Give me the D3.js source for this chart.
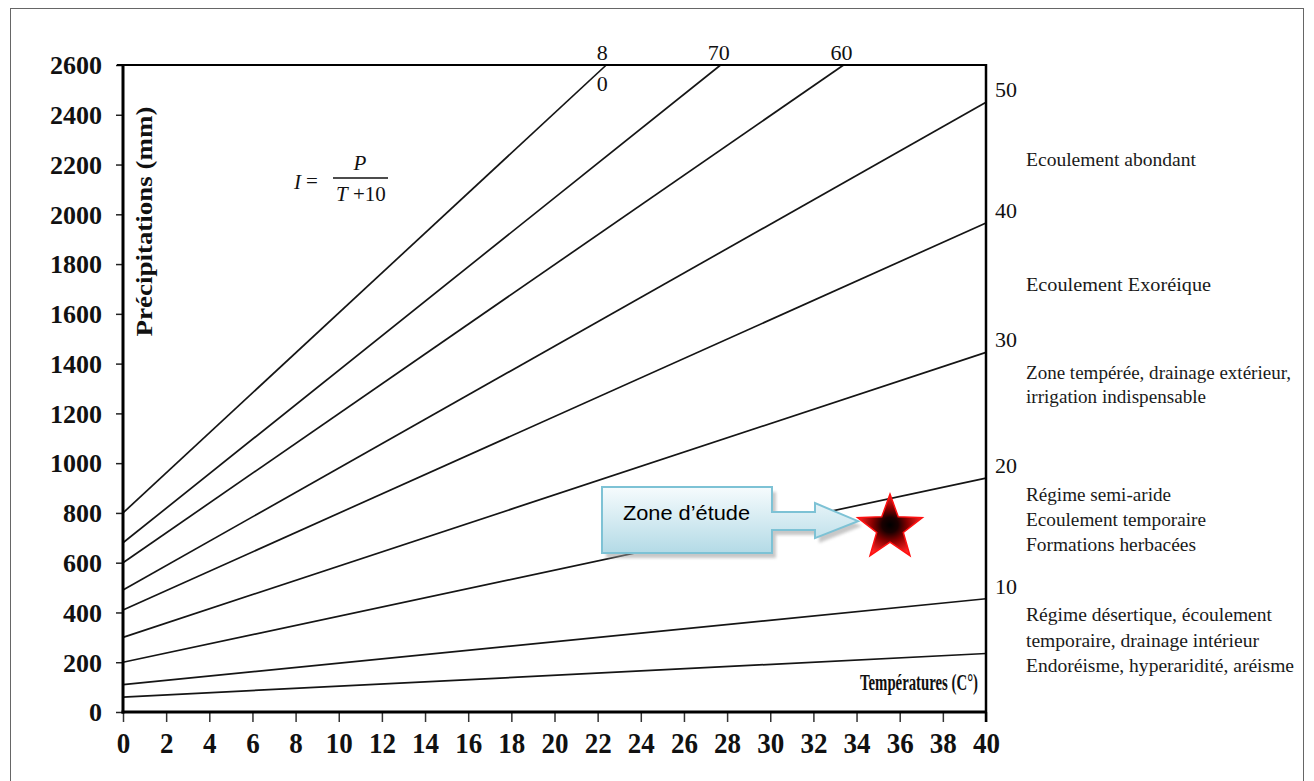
<!DOCTYPE html>
<html>
<head>
<meta charset="utf-8">
<script src="https://cdn.jsdelivr.net/npm/d3@7/dist/d3.min.js"></script>
<style>
  html, body { margin: 0; padding: 0; background: #fff; }
  svg { display: block; }
</style>
</head>
<body>
<svg id="chart" width="1314" height="781"></svg>
<script>
// ---------------- DATA ----------------
const indexValues   = [80, 70, 60, 50, 40, 30, 20, 10, 5];
const pAtZero       = [800, 680, 600, 490, 410, 300, 200, 110, 60];
const tAtEnd        = [22.4, 27.7, 33.4, 40, 40, 40, 40, 40, 40];
const pAtEnd        = [2600, 2600, 2600, 2450, 1965, 1445, 940, 455, 235];
const xTickValues   = [0,2,4,6,8,10,12,14,16,18,20,22,24,26,28,30,32,34,36,38,40];
const yTickValues   = [0,200,400,600,800,1000,1200,1400,1600,1800,2000,2200,2400,2600];
const rightIndexLabels = ["50","40","30","20","10"];
const topIndexLabels   = ["70","60"];
const zoneTexts = [
  ["Ecoulement abondant"],
  ["Ecoulement Exoréique"],
  ["Zone tempérée, drainage extérieur,", "irrigation indispensable"],
  ["Régime semi-aride", "Ecoulement temporaire", "Formations herbacées"],
  ["Régime désertique, écoulement", "temporaire, drainage intérieur", "Endoréisme, hyperaridité, aréisme"]
];
const studyPoint = {T: 35.55, P: 751, label: "Zone d’étude"};
const xTitle = "Températures (C°)";
const yTitle = "Précipitations (mm)";

// ---------------- LAYOUT ----------------
const svg = d3.select("#chart");
const serif = "'Liberation Serif', 'Times New Roman', serif";
const x = d3.scaleLinear().domain([0, 40]).range([123, 986]);
const y = d3.scaleLinear().domain([0, 2600]).range([712, 65]);

// outer frame
svg.append("rect").attr("x", 10.5).attr("y", 8.5).attr("width", 1293).attr("height", 800)
  .attr("fill", "none").attr("stroke", "#666").attr("stroke-width", 1);

const defs = svg.append("defs");
const grad = defs.append("radialGradient").attr("id", "starGrad")
  .attr("cx", "50%").attr("cy", "50%").attr("r", "50%");
grad.append("stop").attr("offset", "0%").attr("stop-color", "#000");
grad.append("stop").attr("offset", "25%").attr("stop-color", "#1a0000");
grad.append("stop").attr("offset", "55%").attr("stop-color", "#8a0000");
grad.append("stop").attr("offset", "100%").attr("stop-color", "#ff2424");
const boxGrad = defs.append("linearGradient").attr("id", "boxGrad")
  .attr("x1", 0).attr("y1", 0).attr("x2", 0).attr("y2", 1);
boxGrad.append("stop").attr("offset", "0%").attr("stop-color", "#f6fbfd");
boxGrad.append("stop").attr("offset", "100%").attr("stop-color", "#b3dae6");
const blur = defs.append("filter").attr("id", "shadowBlur");
blur.append("feGaussianBlur").attr("stdDeviation", 1.5);

// ---------------- INDEX LINES ----------------
const lineGen = d3.line().x(d => x(d[0])).y(d => y(d[1]));
svg.append("g").selectAll("path").data(indexValues).join("path")
  .attr("d", (d, i) => lineGen([[0, pAtZero[i]], [tAtEnd[i], pAtEnd[i]]]))
  .attr("fill", "none").attr("stroke", "#151515").attr("stroke-width", 1.7);

// ---------------- AXES ----------------
const yAxis = svg.append("g").attr("transform", `translate(${x(0)},0)`)
  .call(d3.axisLeft(y).tickValues(yTickValues).tickSize(7).tickPadding(14).tickFormat(d3.format("d")));
yAxis.select(".domain").remove();
yAxis.selectAll("line").attr("stroke", "#222").attr("stroke-width", 1.5);
yAxis.selectAll("text").attr("font-family", serif).attr("font-weight", "bold")
  .attr("font-size", 26).attr("fill", "#111").attr("dy", "0.34em");

const xAxis = svg.append("g").attr("transform", `translate(0,${y(0)})`)
  .call(d3.axisBottom(x).tickValues(xTickValues).tickSize(10).tickPadding(0).tickFormat(d3.format("d")));
xAxis.select(".domain").remove();
xAxis.selectAll("line").attr("stroke", "#333").attr("stroke-width", 1.5);
xAxis.selectAll("text").attr("font-family", serif).attr("font-weight", "bold")
  .attr("font-size", 30).attr("fill", "#111").attr("dy", 0).attr("y", 41)
  .attr("textLength", d => String(d).length * 13.5).attr("lengthAdjust", "spacingAndGlyphs");

// frame lines of the plot
svg.append("line").attr("x1", x(0)).attr("x2", x(0)).attr("y1", y(2600)).attr("y2", y(0) + 1.5)
  .attr("stroke", "#000").attr("stroke-width", 3);
svg.append("line").attr("x1", x(0) - 1.5).attr("x2", x(40) + 1).attr("y1", y(0)).attr("y2", y(0))
  .attr("stroke", "#000").attr("stroke-width", 3);
svg.append("line").attr("x1", x(0) - 6).attr("x2", x(40) + 1).attr("y1", y(2600)).attr("y2", y(2600))
  .attr("stroke", "#000").attr("stroke-width", 2);
svg.append("line").attr("x1", x(40)).attr("x2", x(40)).attr("y1", y(2600) - 1).attr("y2", y(0) + 10)
  .attr("stroke", "#000").attr("stroke-width", 2.5);

// axis titles
svg.append("text")
  .attr("transform", `translate(152,${(y(2600) + y(0)) / 2 - 167}) rotate(-90)`)
  .attr("text-anchor", "middle").attr("font-family", serif).attr("font-weight", "bold")
  .attr("font-size", 24).attr("fill", "#111")
  .attr("textLength", 230).attr("lengthAdjust", "spacingAndGlyphs")
  .text(yTitle);
svg.append("text").attr("x", x(40) - 8).attr("y", y(0) - 22)
  .attr("text-anchor", "end").attr("font-family", serif).attr("font-weight", "bold")
  .attr("font-size", 24).attr("fill", "#111")
  .attr("textLength", 118).attr("lengthAdjust", "spacingAndGlyphs")
  .text(xTitle);

// ---------------- INDEX LABELS ----------------
rightIndexLabels.forEach(lab => {
  const i = indexValues.indexOf(+lab);
  svg.append("text").attr("x", x(40) + 9).attr("y", y(pAtEnd[i]) - 5)
    .attr("font-family", serif).attr("font-size", 22).attr("fill", "#111")
    .text(lab);
});
const i80 = indexValues.indexOf(80);
svg.append("text").attr("x", x(tAtEnd[i80]) - 4).attr("y", y(2600) - 5)
  .attr("text-anchor", "middle").attr("font-family", serif).attr("font-size", 22).attr("fill", "#111")
  .text(String(indexValues[i80])[0]);
svg.append("text").attr("x", x(tAtEnd[i80]) - 4).attr("y", y(2600) + 26)
  .attr("text-anchor", "middle").attr("font-family", serif).attr("font-size", 22).attr("fill", "#111")
  .text(String(indexValues[i80])[1]);
topIndexLabels.forEach(lab => {
  const i = indexValues.indexOf(+lab);
  svg.append("text").attr("x", x(tAtEnd[i]) - 2).attr("y", y(2600) - 5)
    .attr("text-anchor", "middle").attr("font-family", serif).attr("font-size", 22).attr("fill", "#111")
    .text(lab);
});

// ---------------- ZONE TEXTS ----------------
const zoneBaselines = [[166], [291], [379, 403], [501, 526, 551], [621, 647, 672]];
const zoneWidths = [[170], [185], [265, 180], [145, 180, 170], [246, 233, 268]];
zoneTexts.forEach((lines, g) => {
  lines.forEach((t, j) => {
    svg.append("text").attr("x", 1026).attr("y", zoneBaselines[g][j])
      .attr("font-family", serif).attr("font-size", 19).attr("fill", "#1a1a1a")
      .attr("textLength", zoneWidths[g][j]).attr("lengthAdjust", "spacingAndGlyphs")
      .text(t);
  });
});

// ---------------- FORMULA ----------------
const fg = svg.append("g").attr("font-family", serif).attr("font-style", "italic")
  .attr("font-size", 21).attr("fill", "#111");
fg.append("text").attr("x", 294).attr("y", 189).text("I");
fg.append("text").attr("x", 306).attr("y", 188).attr("font-style", "normal").text("=");
fg.append("line").attr("x1", 333).attr("x2", 388).attr("y1", 178).attr("y2", 178)
  .attr("stroke", "#111").attr("stroke-width", 1.4);
fg.append("text").attr("x", 360).attr("y", 170).attr("text-anchor", "middle").text("P");
const den = fg.append("text").attr("x", 336).attr("y", 201);
den.append("tspan").text("T");
den.append("tspan").attr("font-style", "normal").text(" +10");

// ---------------- STUDY POINT ----------------
const sx = x(studyPoint.T), sy = y(studyPoint.P);
const tipX = sx - 32, tipY = sy - 4;
const callout = [
  [tipX - 256, tipY - 34], [tipX - 86, tipY - 34], [tipX - 86, tipY - 9],
  [tipX - 43, tipY - 9], [tipX - 43, tipY - 18], [tipX, tipY],
  [tipX - 43, tipY + 17], [tipX - 43, tipY + 9], [tipX - 86, tipY + 9],
  [tipX - 86, tipY + 32], [tipX - 256, tipY + 32]
];
const poly = d3.line().curve(d3.curveLinearClosed);
svg.append("path").attr("d", poly(callout)).attr("transform", "translate(4,5)")
  .attr("fill", "#9a9a9a").attr("opacity", 0.55).attr("filter", "url(#shadowBlur)");
svg.append("path").attr("d", poly(callout))
  .attr("fill", "url(#boxGrad)").attr("stroke", "#7dc2d5").attr("stroke-width", 2);
svg.append("text").attr("x", tipX - 235).attr("y", tipY - 1)
  .attr("font-family", "'Liberation Sans', Arial, sans-serif").attr("font-size", 20).attr("fill", "#000")
  .attr("textLength", 127).attr("lengthAdjust", "spacingAndGlyphs")
  .text(studyPoint.label);

const R = 34, r = 14;
const starPts = d3.range(10).map(k => {
  const a = -Math.PI / 2 + k * Math.PI / 5;
  const rr = k % 2 === 0 ? R : r;
  return [sx + rr * Math.cos(a), sy + 3 + rr * Math.sin(a)];
});
svg.append("path").attr("d", poly(starPts))
  .attr("fill", "url(#starGrad)").attr("stroke", "#ff1010").attr("stroke-width", 1.5)
  .attr("stroke-linejoin", "miter");
</script>
</body>
</html>
